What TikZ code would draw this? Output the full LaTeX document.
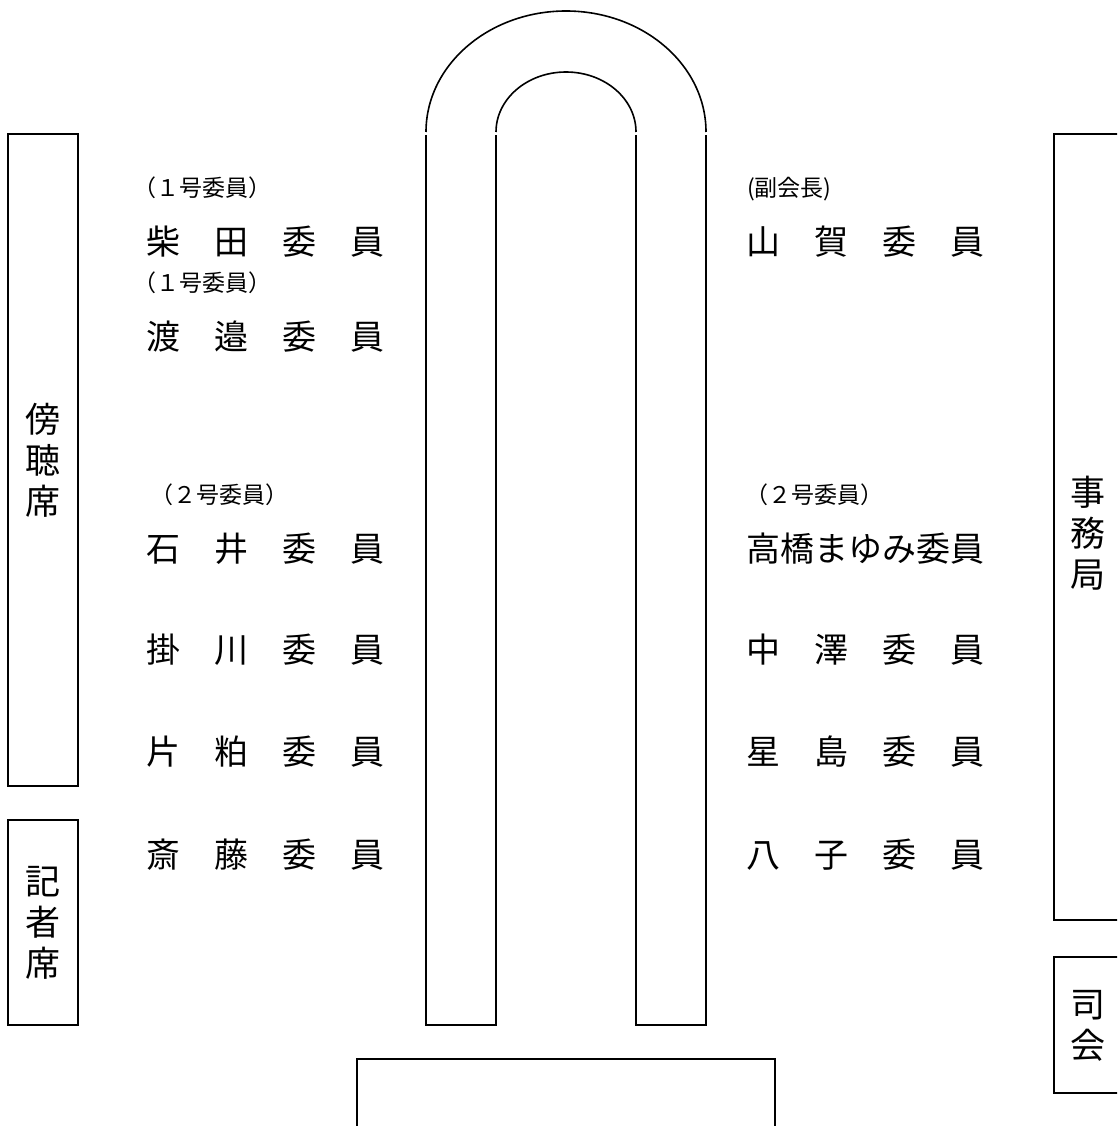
\documentclass[tikz,border=0pt]{standalone}
\usepackage{fontspec}
\newfontfamily\jp{Noto Sans CJK JP}
\begin{document}
\begin{tikzpicture}[x=1pt,y=-1pt,
  seatbox/.style={line width=2pt},
  tableline/.style={line width=1.6pt},
  membername/.style={anchor=west,inner sep=0pt,font=\jp\fontsize{34}{40}\selectfont,text height=29.9pt,text depth=4.1pt},
  memberrole/.style={anchor=west,inner sep=0pt,font=\jp\fontsize{23}{27}\selectfont,text height=20.2pt,text depth=2.8pt},
  vlabel/.style={inner sep=0pt,font=\jp\fontsize{35}{41}\selectfont,align=center}]
\clip (0,0) rectangle (1117,1126);
\fill[white] (0,0) rectangle (1117,1126);

% side boxes
\draw[seatbox] (8,134) rectangle (78,786);
\draw[seatbox] (8,820) rectangle (78,1025);
\draw[seatbox] (1054,134) rectangle (1140,920);
\draw[seatbox] (1054,957) rectangle (1140,1093);
\draw[seatbox] (357,1059) rectangle (775,1140);

% U-shaped table
\draw[tableline] (426,135) -- (426,1025) -- (496,1025) -- (496,135);
\draw[tableline] (636,135) -- (636,1025) -- (706,1025) -- (706,135);
\draw[tableline] (426,132) arc[start angle=180,end angle=360,x radius=140,y radius=121];
\draw[tableline] (496,132) arc[start angle=180,end angle=360,x radius=70,y radius=60];

% box labels
\node[vlabel] (bochoseki) at (43,460) {傍\\聴\\席};
\node[vlabel] (kishaseki) at (43,923) {記\\者\\席};
\node[vlabel] (jimukyoku) at (1088,533) {事\\務\\局};
\node[vlabel] (shikai) at (1088,1026) {司\\会};

% left members
\node[memberrole] (r1) at (133,188) {（１号委員）};
\node[membername] (shibata) at (146,242) {柴　田　委　員};
\node[memberrole] (r2) at (133,283) {（１号委員）};
\node[membername] (watanabe) at (146,337) {渡　邉　委　員};
\node[memberrole] (r3) at (150,495) {（２号委員）};
\node[membername] (ishii) at (146,549) {石　井　委　員};
\node[membername] (kakegawa) at (146,650) {掛　川　委　員};
\node[membername] (katakasu) at (146,752) {片　粕　委　員};
\node[membername] (saito) at (146,855) {斎　藤　委　員};

% right members
\node[memberrole] (r4) at (747,188) {(副会長)};
\node[membername] (yamaga) at (746,242) {山　賀　委　員};
\node[memberrole] (r5) at (745,495) {（２号委員）};
\node[membername] (takahashi) at (746,549) {高橋まゆみ委員};
\node[membername] (nakazawa) at (746,650) {中　澤　委　員};
\node[membername] (hoshijima) at (746,752) {星　島　委　員};
\node[membername] (yako) at (746,855) {八　子　委　員};
\end{tikzpicture}
\end{document}
